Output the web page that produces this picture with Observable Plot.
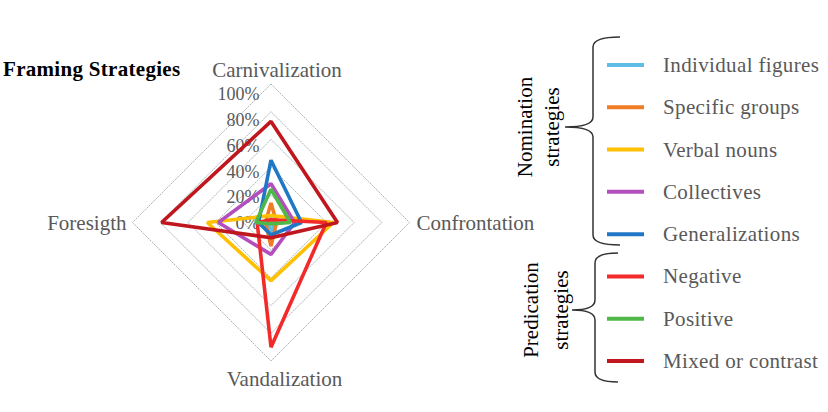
<!DOCTYPE html>
<html>
<head>
<meta charset="utf-8">
<script src="https://cdn.jsdelivr.net/npm/d3@7"></script>
<script src="https://cdn.jsdelivr.net/npm/@observablehq/plot@0.6"></script>
<style>
  html, body { margin: 0; padding: 0; background: #fff; }
  #wrap { position: relative; width: 828px; height: 412px; overflow: hidden;
          font-family: "Liberation Serif", "Times New Roman", serif; }
  #wrap > svg { position: absolute; left: 0; top: 0; }
  #title { position: absolute; left: 3px; top: 57px; font-weight: bold; font-size: 21px; color: #000;
           letter-spacing: 0.3px; font-family: "Liberation Serif", serif; white-space: nowrap; }
</style>
</head>
<body>
<div id="wrap"><div id="title">Framing Strategies</div></div>
<script>
// ---- data ----
const axes = ["Carnivalization", "Confrontation", "Vandalization", "Foresigth"];
const seriesNames = ["Individual figures", "Specific groups", "Verbal nouns", "Collectives",
                     "Generalizations", "Negative", "Positive", "Mixed or contrast"];
const seriesColors = ["#5dbde6", "#f07d26", "#ffc000", "#b24fbd",
                      "#1f78c6", "#f22a2a", "#50b848", "#c0161e"];
// values in % for [Carnivalization, Confrontation, Vandalization, Foresigth]
const individualFigures = [3, 3, 7, 2];
const specificGroups    = [14, 4, 17, 4];
const verbalNouns       = [5, 45, 42, 46];
const collectives       = [28, 17, 23, 38];
const generalizations   = [45, 22, 9, 9];
const negative          = [2, 40, 90, 10];
const positive          = [24, 14, 1, 11];
const mixedOrContrast   = [73, 48, 11, 79];
const seriesValues = [individualFigures, specificGroups, verbalNouns, collectives,
                      generalizations, negative, positive, mixedOrContrast];
const gridLevels = [0.2, 0.4, 0.6, 0.8, 1.0];
const tickValues = [0, 0.2, 0.4, 0.6, 0.8, 1.0];
const tickLabels = ["0%", "20%", "40%", "60%", "80%", "100%"];
const groups = [
  {name: ["Nomination", "strategies"], members: seriesNames.slice(0, 5)},
  {name: ["Predication", "strategies"], members: seriesNames.slice(5)}
];

// ---- layout ----
const W = 828, H = 412;
const cx = 270.5, cy = 222, R = 138.5;
const ang = i => i * Math.PI / 2;
const pt = (i, v) => ({x: v * Math.sin(ang(i)), y: v * Math.cos(ang(i))});

const radarData = seriesNames.flatMap((s, k) =>
  seriesValues[k].map((v, i) => ({series: s, axis: axes[i], value: v, ...pt(i, v / 100)})));
const gridData = gridLevels.flatMap(l => axes.map((a, i) => ({level: l, ...pt(i, l)})));
const tickData = tickValues.map((v, i) => ({v, label: tickLabels[i]}));
const axisEnds = axes.map((a, i) => ({axis: a, ...pt(i, 1)}));

const serif = "Liberation Serif, Times New Roman, serif";
const labelStyle = [
  {dx: 6, dy: -14, textAnchor: "middle"},
  {dx: 7, dy: 1, textAnchor: "start"},
  {dx: 13.5, dy: 18.5, textAnchor: "middle"},
  {dx: -6, dy: 1, textAnchor: "end"}
];

const chart = Plot.plot({
  width: W, height: H, margin: 0,
  style: {fontFamily: serif, background: "transparent"},
  x: {domain: [-cx / R, (W - cx) / R], axis: null},
  y: {domain: [-(H - cy) / R, cy / R], axis: null},
  color: {domain: seriesNames, range: seriesColors},
  marks: [
    Plot.line(gridData, {x: "x", y: "y", z: "level", curve: "linear-closed",
      stroke: "#a9b4b6", strokeWidth: 1, strokeDasharray: "1,1.6"}),
    Plot.text(tickData, {x: () => 0, y: d => d.v * 0.932, text: "label", dx: -11.5, dy: 1,
      textAnchor: "end", fontSize: 18, fill: "#595959"}),
    Plot.line(radarData, {x: "x", y: "y", z: "series", stroke: "series", curve: "linear-closed",
      strokeWidth: 3.6, strokeLinejoin: "miter"}),
    ...axisEnds.map((d, i) => Plot.text([d], {x: "x", y: "y", text: "axis", fontSize: 21,
      fill: "#595959", ...labelStyle[i]}))
  ]
});
document.getElementById("wrap").appendChild(chart);

// ---- legend with braces ----
const legendY = d3.scalePoint().domain(seriesNames).range([65, 361]);
const color = d3.scaleOrdinal().domain(seriesNames).range(seriesColors);
const lg = d3.select("#wrap").append("svg")
  .attr("width", W).attr("height", H)
  .style("pointer-events", "none")
  .attr("font-family", serif);

lg.selectAll("line.sw").data(seriesNames).join("line")
  .attr("x1", 607).attr("x2", 644)
  .attr("y1", d => legendY(d)).attr("y2", d => legendY(d))
  .attr("stroke", d => color(d)).attr("stroke-width", 4);
lg.selectAll("text.lt").data(seriesNames).join("text")
  .attr("x", 663).attr("y", d => legendY(d)).attr("dy", "0.33em")
  .attr("font-size", 21).attr("letter-spacing", 0.35).attr("fill", "#595959").text(d => d);

const braceCfg = [
  {top: 37, bot: 245, xv: 593, tip: 565, xr: 620, t1: 525, t2: 552},
  {top: 253, bot: 382, xv: 595, tip: 572, xr: 618, t1: 531, t2: 561}
];
groups.forEach((g, k) => {
  const b = braceCfg[k];
  const mid = (b.top + b.bot) / 2 + (k === 0 ? -14 : -7.5);
  const p = `M${b.xr},${b.top} Q${b.xv},${b.top} ${b.xv},${b.top + 10} L${b.xv},${mid - 10}
             Q${b.xv},${mid} ${b.tip},${mid} Q${b.xv},${mid} ${b.xv},${mid + 10}
             L${b.xv},${b.bot - 10} Q${b.xv},${b.bot} ${b.xr},${b.bot}`;
  lg.append("path").attr("d", p).attr("fill", "none").attr("stroke", "#333").attr("stroke-width", 1.5);
  [b.t1, b.t2].forEach((tx, j) => {
    lg.append("text").attr("transform", `translate(${tx},${mid}) rotate(-90)`)
      .attr("text-anchor", "middle").attr("dy", "0.33em")
      .attr("font-size", 21).attr("fill", "#000").text(g.name[j]);
  });
});
</script>
</body>
</html>
